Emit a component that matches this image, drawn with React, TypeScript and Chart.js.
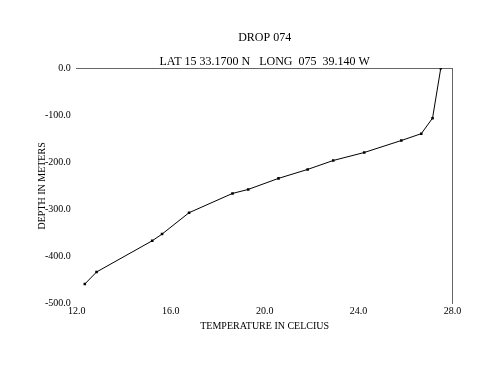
import React, { useEffect, useRef } from "react";
import { Chart, registerables } from "chart.js";

Chart.register(...registerables);

const titleLine1 = "DROP 074";
const titleLine2 = "LAT 15 33.1700 N   LONG  075  39.140 W";
const xTitle = "TEMPERATURE IN CELCIUS";
const yTitle = "DEPTH IN METERS";

// Temperature (°C) and depth (m) of each reading
const temperatures = [12.34, 12.84, 15.21, 15.63, 16.78, 18.63, 19.3, 20.59, 21.83, 22.92, 24.24, 25.82, 26.67, 27.15, 27.5];
const depths = [-458.6, -433, -366.7, -352.4, -307, -266, -257.5, -234, -215, -196, -179, -153.5, -139, -106, 0];

const xMin = 12;
const xMax = 28;
const xStep = 4;
const yMin = -500;
const yMax = 0;
const yStep = 100;

const FONT = "'Liberation Serif', 'Times New Roman', serif";
const AXIS_COLOR = "#666666";

export default function App() {
  const ref = useRef<HTMLCanvasElement | null>(null);

  useEffect(() => {
    if (!ref.current) return;
    const points = temperatures.map((t, i) => ({ x: t, y: depths[i] }));
    const chart = new Chart(ref.current, {
      type: "scatter",
      data: {
        datasets: [
          {
            data: points,
            showLine: true,
            borderColor: "#000000",
            borderWidth: 1,
            backgroundColor: "#000000",
            pointStyle: "rect",
            pointRadius: 1.8,
            pointBorderWidth: 0,
            tension: 0,
          },
        ],
      },
      options: {
        responsive: false,
        animation: false,
        events: [],
        layout: { padding: { left: 37, right: 47.5, top: 0, bottom: 53.5 } },
        plugins: {
          legend: { display: false },
          tooltip: { enabled: false },
          title: {
            display: true,
            text: titleLine1,
            fullSize: false,
            color: "#000000",
            font: { family: FONT, size: 12, weight: "normal", lineHeight: 1.2 },
            padding: { top: 30.8, bottom: 9.9 },
          },
          subtitle: {
            display: true,
            text: titleLine2,
            fullSize: false,
            color: "#000000",
            font: { family: FONT, size: 12, weight: "normal", lineHeight: 1.1 },
            padding: { top: 0, bottom: 0 },
          },
        },
        scales: {
          x: {
            type: "linear",
            position: "bottom",
            min: xMin,
            max: xMax,
            grid: { display: false, drawTicks: false },
            border: { display: false },
            ticks: {
              stepSize: xStep,
              padding: 2,
              color: "#000000",
              font: { family: FONT, size: 10 },
              maxRotation: 0,
              callback: (v: any) => Number(v).toFixed(1),
            },
            title: {
              display: true,
              text: xTitle,
              color: "#000000",
              font: { family: FONT, size: 10, lineHeight: 1.2 },
              padding: { top: 1, bottom: 0 },
            },
          },
          x2: {
            type: "linear",
            position: "top",
            min: xMin,
            max: xMax,
            grid: { display: false, drawTicks: false },
            border: { display: true, color: AXIS_COLOR, width: 1 },
            ticks: { display: false },
          },
          y: {
            type: "linear",
            position: "left",
            min: yMin,
            max: yMax,
            grid: { display: false, drawTicks: false },
            border: { display: false },
            ticks: {
              stepSize: yStep,
              padding: 6,
              color: "#000000",
              font: { family: FONT, size: 10 },
              callback: (v: any) => Number(v).toFixed(1),
            },
            title: {
              display: true,
              text: yTitle,
              color: "#000000",
              font: { family: FONT, size: 10, lineHeight: 1 },
              padding: { top: 0, bottom: -8 },
            },
          },
          y2: {
            type: "linear",
            position: "right",
            min: yMin,
            max: yMax,
            grid: { display: false, drawTicks: false },
            border: { display: true, color: AXIS_COLOR, width: 1 },
            ticks: { display: false },
          },
        },
      },
    });
    return () => chart.destroy();
  }, []);

  return (
    <div style={{ position: "absolute", left: 0, top: 0, width: 500, height: 386, background: "#ffffff" }}>
      <canvas ref={ref} width={500} height={386} style={{ width: 500, height: 386, display: "block" }} />
    </div>
  );
}
